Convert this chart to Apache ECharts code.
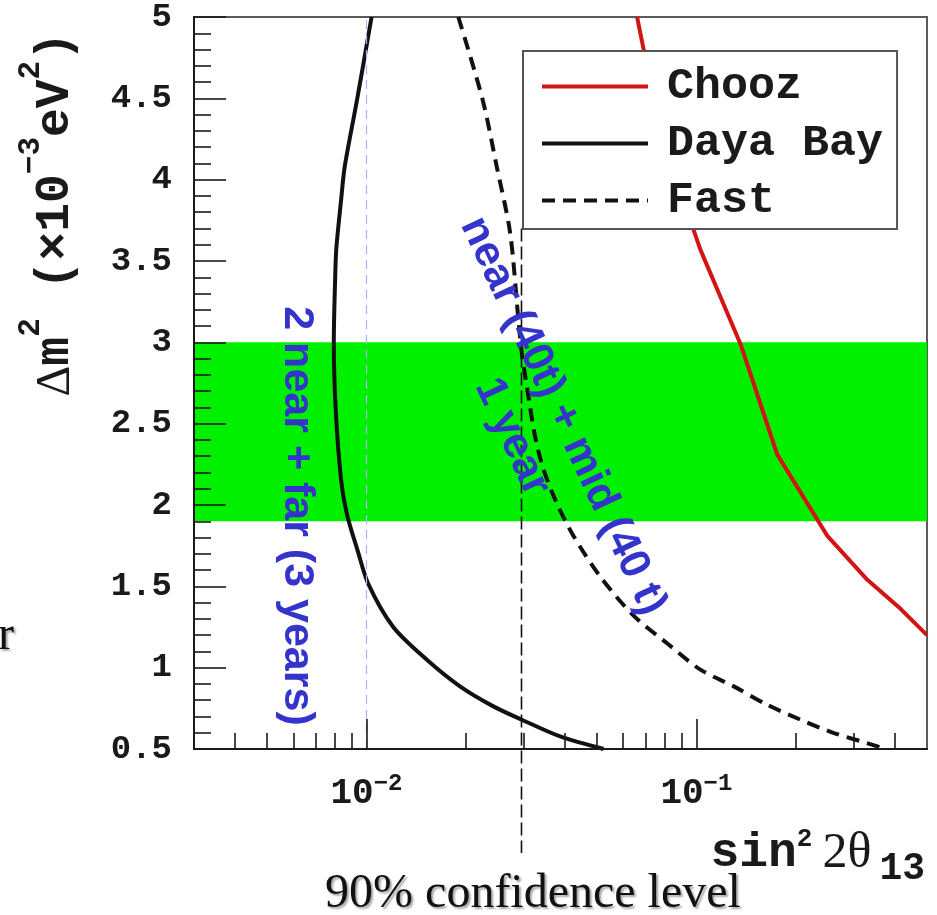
<!DOCTYPE html>
<html>
<head>
<meta charset="utf-8">
<script src="https://cdn.jsdelivr.net/npm/echarts@6/dist/echarts.min.js"></script>
<style>
  html, body { margin: 0; padding: 0; background: #fff; }
  #chart { width: 937px; height: 915px; }
</style>
</head>
<body>
<div id="chart"></div>
<script>
// Sensitivity contours in the (sin²2θ13, Δm²) plane; Δm² in units of 1e-3 eV².
const choozLimit = [
  [0.0661, 5.0], [0.0692, 4.80], [0.0981, 3.69], [0.1028, 3.57], [0.136, 2.99],
  [0.1758, 2.31], [0.2494, 1.81], [0.3297, 1.54], [0.4165, 1.36], [0.5, 1.20]
];
const dayaBay = [
  [0.01036, 5.0], [0.00936, 4.49], [0.00859, 4.08], [0.00838, 3.88], [0.00811, 3.59],
  [0.00805, 3.45], [0.00796, 3.0], [0.00807, 2.58], [0.00838, 2.15], [0.00873, 1.94],
  [0.0094, 1.72], [0.01015, 1.51], [0.01205, 1.25], [0.01521, 1.05], [0.0192, 0.885],
  [0.02424, 0.762], [0.02956, 0.68], [0.03864, 0.577], [0.0523, 0.5]
];
const fastOption = [
  [0.01898, 5.0], [0.0225, 4.49], [0.02482, 4.08], [0.02724, 3.675], [0.02887, 3.14],
  [0.02956, 2.935], [0.03062, 2.73], [0.03245, 2.42], [0.03438, 2.22], [0.03776, 2.01],
  [0.04241, 1.81], [0.0511, 1.56], [0.0645, 1.32], [0.08147, 1.15], [0.1028, 0.988],
  [0.1298, 0.885], [0.1639, 0.772], [0.2069, 0.68], [0.2612, 0.598], [0.3538, 0.516],
  [0.362, 0.5]
];
// Allowed Δm² range (shaded band)
const dm2Band = [1.9, 3.0];
// Reference sin²2θ13 values
const refSin = 0.01;
const clSin = 0.0295;
const clSpan = [3.70, -0.14];   // Δm² extent of the 90% CL marker line

const xRange = [0.003, 0.5];
const yRange = [0.5, 5];
const xMajorTicks = [0.01, 0.1];
const xMinorTicks = [0.004, 0.005, 0.006, 0.007, 0.008, 0.009,
  0.02, 0.03, 0.04, 0.05, 0.06, 0.07, 0.08, 0.09, 0.2, 0.3, 0.4];

const MONO = 'Liberation Mono';
const SERIF = 'Liberation Serif';
const SANS = 'Liberation Sans';
const BLUE = '#3434cc';
const INK = '#1a1a1a';

const chart = echarts.init(document.getElementById('chart'), null, { renderer: 'canvas' });

const tickStyle = { color: INK, width: 1.6 };

chart.setOption({
  animation: false,
  backgroundColor: '#fff',
  grid: {
    left: 194, top: 17, width: 733, height: 732,
    show: true, borderColor: '#5a5a5a', borderWidth: 2, backgroundColor: 'transparent'
  },
  xAxis: [{
    type: 'log', min: xRange[0], max: xRange[1], position: 'bottom', z: 5,
    axisLine: { show: true, onZero: false, lineStyle: { color: INK, width: 2 } },
    axisTick: { show: true, inside: true, length: 30, customValues: xMajorTicks, lineStyle: tickStyle },
    axisLabel: {
      customValues: xMajorTicks, margin: 27,
      formatter: v => {
        const e = Math.round(Math.log10(v));
        return '{b|10}{s|' + (e < 0 ? '\u2212' : '') + Math.abs(e) + '}';
      },
      rich: {
        b: { fontFamily: MONO, fontWeight: 'bold', fontSize: 36, color: INK, verticalAlign: 'bottom', lineHeight: 36 },
        s: { fontFamily: MONO, fontWeight: 'bold', fontSize: 24, color: INK, verticalAlign: 'bottom', lineHeight: 24, padding: [0, 0, 16, 0] }
      }
    },
    splitLine: { show: false }
  }, {
    type: 'log', min: xRange[0], max: xRange[1], position: 'bottom', z: 5,
    axisLine: { show: false },
    axisTick: { show: true, inside: true, length: 16, customValues: xMinorTicks, lineStyle: tickStyle },
    axisLabel: { show: false },
    splitLine: { show: false }
  }],
  yAxis: {
    type: 'value', min: yRange[0], max: yRange[1], interval: 0.5, z: 5,
    axisLine: { show: true, lineStyle: { color: INK, width: 2 } },
    axisTick: { show: true, inside: true, length: 32, lineStyle: tickStyle },
    minorTick: { show: true, splitNumber: 5, length: 17, lineStyle: tickStyle },
    axisLabel: { margin: 22, fontFamily: MONO, fontWeight: 'bold', fontSize: 34, color: INK },
    splitLine: { show: false },
    minorSplitLine: { show: false }
  },
  legend: {
    data: ['Chooz', 'Daya Bay', 'Fast'],
    orient: 'vertical', left: 523, top: 51,
    padding: [13, 14, 6, 17],
    itemWidth: 106, itemHeight: 44, itemGap: 12,
    backgroundColor: '#fff', borderColor: '#555', borderWidth: 2,
    itemStyle: { opacity: 0 },
    lineStyle: { width: 4 },
    formatter: n => '{t|' + n + '}',
    textStyle: {
      rich: { t: { fontFamily: MONO, fontWeight: 'bold', fontSize: 45, color: INK, padding: [0, 0, 0, 14] } }
    }
  },
  series: [
    {
      name: 'band', type: 'line', data: [], z: 1, silent: true,
      markArea: {
        silent: true,
        itemStyle: { color: '#00f000' },
        data: [[{ yAxis: dm2Band[0] }, { yAxis: dm2Band[1] }]]
      },
      markLine: {
        silent: true, symbol: 'none', label: { show: false },
        lineStyle: { color: '#aab0f4', width: 1.2, type: [9, 6] },
        data: [{ xAxis: refSin }]
      }
    },
    {
      name: 'Chooz', type: 'line', data: choozLimit, symbol: 'none', z: 3,
      lineStyle: { color: '#d21414', width: 4 }, itemStyle: { color: '#d21414' }
    },
    {
      name: 'Daya Bay', type: 'line', data: dayaBay, symbol: 'none', smooth: 0.3, z: 3,
      lineStyle: { color: '#111', width: 4 }, itemStyle: { color: '#111' }
    },
    {
      name: 'Fast', type: 'line', data: fastOption, symbol: 'none', smooth: 0.3, z: 3,
      lineStyle: { color: '#111', width: 4, type: [13, 8] }, itemStyle: { color: '#111' }
    }
  ]
});

// 90% CL marker line, placed through the same axes
const clTop = chart.convertToPixel({ xAxisIndex: 0, yAxisIndex: 0 }, [clSin, clSpan[0]]);
const clBot = chart.convertToPixel({ xAxisIndex: 0, yAxisIndex: 0 }, [clSin, clSpan[1]]);

const blueText = { fontFamily: SANS, fontWeight: 'bold', fontSize: 43, fill: BLUE };
const deg = Math.PI / 180;
const shadow = { textShadowColor: 'rgba(0,0,0,0.35)', textShadowOffsetX: 2, textShadowOffsetY: 2, textShadowBlur: 2 };

chart.setOption({
  graphic: [
    {
      type: 'line', z: 20, silent: true,
      shape: { x1: clTop[0], y1: clTop[1], x2: clBot[0], y2: clBot[1] },
      style: { stroke: '#111', lineWidth: 1.6, lineDash: [13, 5] }
    },
    // y-axis title
    {
      type: 'text', x: 80, y: 32, rotation: Math.PI / 2, z: 20,
      style: {
        text: '{d|\u0394}{t|m}{p|2}{t| (\u00d710}{p|\u22123}{t|eV}{p|2}{t|)}',
        align: 'right', verticalAlign: 'bottom',
        rich: {
          t: { fontFamily: MONO, fontWeight: 'bold', fontSize: 48, fill: INK, verticalAlign: 'bottom', lineHeight: 48 },
          d: { fontFamily: SERIF, fontSize: 48, fill: INK, verticalAlign: 'bottom', lineHeight: 48 },
          p: { fontFamily: MONO, fontWeight: 'bold', fontSize: 31, fill: INK, verticalAlign: 'bottom', lineHeight: 31, padding: [0, 0, 33, 0] }
        }
      }
    },
    // x-axis title
    {
      type: 'text', x: 925, y: 892, z: 20,
      style: {
        text: '{t|sin}{p|2}{g|2\u03b8}{b|13}',
        align: 'right', verticalAlign: 'bottom',
        rich: {
          t: { fontFamily: MONO, fontWeight: 'bold', fontSize: 48, fill: INK, verticalAlign: 'bottom', lineHeight: 48, padding: [0, 0, 14, 0] },
          g: { fontFamily: SERIF, fontSize: 50, fill: INK, verticalAlign: 'bottom', lineHeight: 50, padding: [0, 0, 13, 10] },
          p: { fontFamily: MONO, fontWeight: 'bold', fontSize: 26, fill: INK, verticalAlign: 'bottom', lineHeight: 26, padding: [0, 0, 40, 0] },
          b: { fontFamily: MONO, fontWeight: 'bold', fontSize: 38, fill: INK, verticalAlign: 'bottom', lineHeight: 38, padding: [0, 0, 4, 8] }
        }
      }
    },
    // configuration labels
    {
      type: 'text', x: 297, y: 516, rotation: -Math.PI / 2, z: 20,
      style: Object.assign({ text: '2 near + far (3 years)', align: 'center', verticalAlign: 'middle' }, blueText)
    },
    {
      type: 'text', x: 563, y: 416, rotation: -65 * deg, z: 20,
      style: Object.assign({ text: 'near (40t) + mid (40 t)', align: 'center', verticalAlign: 'middle' }, blueText)
    },
    {
      type: 'text', x: 512, y: 437, rotation: -65 * deg, z: 20,
      style: Object.assign({ text: '1 year', align: 'center', verticalAlign: 'middle' }, blueText)
    },
    // caption
    {
      type: 'text', x: 533, y: 918, z: 20,
      style: Object.assign({
        text: '90% confidence level', align: 'center', verticalAlign: 'bottom',
        fontFamily: SERIF, fontSize: 48, fill: '#111'
      }, shadow)
    },
    {
      type: 'text', x: -2, y: 660, z: 20,
      style: Object.assign({
        text: 'r', align: 'left', verticalAlign: 'bottom',
        fontFamily: SERIF, fontSize: 48, fill: '#111'
      }, shadow)
    }
  ]
});
</script>
</body>
</html>
